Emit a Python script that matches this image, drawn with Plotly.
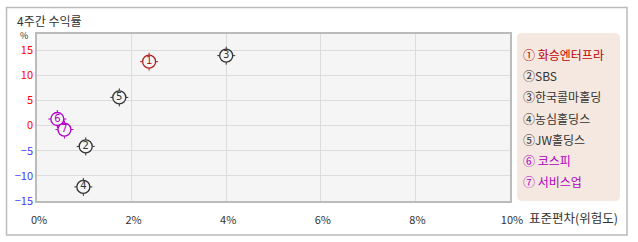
import plotly.graph_objects as go

# ---- data ----
names = ["화승엔터프라", "SBS", "한국콜마홀딩", "농심홀딩스", "JW홀딩스", "코스피", "서비스업"]
labels = ["1", "2", "3", "4", "5", "6", "7"]
circled = ["①", "②", "③", "④", "⑤", "⑥", "⑦"]
risk = [2.37, 1.03, 4.0, 0.98, 1.74, 0.43, 0.58]      # 표준편차 (%)
ret = [12.7, -4.15, 13.9, -12.2, 5.6, 1.3, -0.8]      # 4주간 수익률 (%)
colors = ["#b02020", "#333333", "#333333", "#333333", "#333333", "#b000c0", "#b000c0"]
legend_colors = ["#c00000", "#333333", "#333333", "#333333", "#333333", "#b000c0", "#b000c0"]
y_ticks = [-15, -10, -5, 0, 5, 10, 15]
x_ticks = [0, 2, 4, 6, 8, 10]

W, H = 638, 242
L, R, T, B = 37, 128, 34, 41
pw, ph = W - L - R, H - T - B

def px(x):
    return (x - L) / pw

def py(y):
    return (H - B - y) / ph

FONT = "Noto Sans CJK KR"

fig = go.Figure()
fig.add_trace(go.Scatter(
    x=risk, y=ret, mode="markers+text", text=labels, textposition="middle center",
    textfont=dict(family="DejaVu Sans", size=10, color=colors),
    marker=dict(symbol="circle", size=13, color="#f5f5f5", line=dict(color=colors, width=1.3)),
))

def ytxt(v):
    c = "#ff0000" if v >= 0 else "#3c3cff"
    s = str(v) if v >= 0 else "\u2212" + str(-v)
    return f'<span style="color:{c}">{s}</span>'

fig.update_layout(
    width=W, height=H, margin=dict(l=L, r=R, t=T, b=B),
    paper_bgcolor="white", plot_bgcolor="#f5f5f5", showlegend=False,
    font=dict(family=FONT, size=11, color="#333"),
    xaxis=dict(range=[0, 10], tickvals=x_ticks, ticktext=[f"{v}%" for v in x_ticks],
               showgrid=True, gridcolor="#dcdcdc", gridwidth=1, zeroline=False,
               showline=True, linecolor="#bbbbbb", linewidth=1.5, mirror=True,
               ticks="", ticklabelstandoff=8, ticklabelshift=2, tickfont=dict(size=11, color="#333")),
    yaxis=dict(range=[-15, 18.2], tickvals=y_ticks, ticktext=[ytxt(v) for v in y_ticks],
               showgrid=True, gridcolor="#dcdcdc", gridwidth=1, zeroline=False,
               showline=True, linecolor="#bbbbbb", linewidth=1.5, mirror=True,
               ticks="", tickfont=dict(size=11)),
)

shapes = []
# outer border
shapes.append(dict(type="rect", xref="paper", yref="paper", x0=px(6.5), x1=px(627), y0=py(7.5), y1=py(235),
                   line=dict(color="#bbbbbb", width=1.5), fillcolor="rgba(0,0,0,0)", layer="below"))
# legend box (rounded)
x0, x1, y0, y1, r = 517, 620, 33, 201, 5
def P(a, b):
    return f"{px(a):.5f},{py(b):.5f}"
path = (f"M {P(x0+r, y0)} L {P(x1-r, y0)} Q {P(x1, y0)} {P(x1, y0+r)} "
        f"L {P(x1, y1-r)} Q {P(x1, y1)} {P(x1-r, y1)} L {P(x0+r, y1)} "
        f"Q {P(x0, y1)} {P(x0, y1-r)} L {P(x0, y0+r)} Q {P(x0, y0)} {P(x0+r, y0)} Z")
shapes.append(dict(type="path", xref="paper", yref="paper", path=path,
                   fillcolor="#f5e8e0", line=dict(width=0), layer="below"))
# small tick marks around each marker (pixel-sized, anchored at the data point)
r_in, r_out = 6.5, 9
for xv, yv, c in zip(risk, ret, colors):
    for (a0, b0, a1, b1) in [(0, r_in, 0, r_out), (0, -r_in, 0, -r_out),
                             (r_in, 0, r_out, 0), (-r_in, 0, -r_out, 0)]:
        shapes.append(dict(type="line", xref="x", yref="y", xsizemode="pixel", ysizemode="pixel",
                           xanchor=xv, yanchor=yv, x0=a0, x1=a1, y0=b0, y1=b1,
                           line=dict(color=c, width=1), layer="above"))
fig.update_layout(shapes=shapes)

ann = []
ann.append(dict(text="4주간 수익률", xref="paper", yref="paper", x=px(15), y=py(20),
                xanchor="left", yanchor="middle", showarrow=False, font=dict(size=12, color="#333")))
ann.append(dict(text="%", xref="paper", yref="paper", x=px(24), y=py(35),
                xanchor="center", yanchor="middle", showarrow=False, font=dict(size=9, color="#333")))
ann.append(dict(text="표준편차(위험도)", xref="paper", yref="paper", x=px(527), y=py(217),
                xanchor="left", yanchor="middle", showarrow=False, font=dict(size=12.5, color="#333")))
for i, (c, n) in enumerate(zip(circled, names)):
    ann.append(dict(text=f"{c} {n}" if i in (0, 5, 6) else f"{c}{n}", xref="paper", yref="paper",
                    x=px(521), y=py(54.5 + i * 21.2), xanchor="left", yanchor="middle",
                    showarrow=False, font=dict(size=12, color=legend_colors[i])))
fig.update_layout(annotations=ann)

fig.write_html("out.html")
